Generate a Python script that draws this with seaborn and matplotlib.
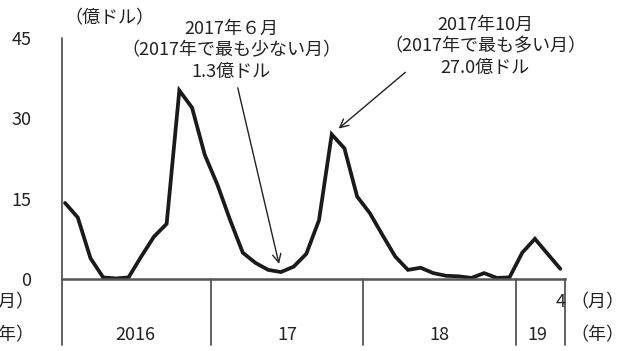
import matplotlib
matplotlib.use("Agg")
import matplotlib.pyplot as plt
import matplotlib.transforms as mtransforms
import numpy as np
import pandas as pd
import seaborn as sns

# Monthly amounts (100 million USD), Jan 2016 - Apr 2019
values_2016 = [14.2, 11.5, 3.9, 0.3, 0.1, 0.3, 4.2, 7.9, 10.3, 35.2, 32.0, 23.2]
values_2017 = [17.6, 11.0, 4.9, 3.0, 1.7, 1.3, 2.3, 4.7, 11.0, 27.0, 24.4, 15.4]
values_2018 = [12.3, 8.2, 4.2, 1.7, 2.1, 1.1, 0.6, 0.5, 0.2, 1.1, 0.2, 0.3]
values_2019 = [4.9, 7.5, 4.7, 1.9]
year_labels = ["2016", "17", "18", "19"]
y_ticks = [0, 15, 30, 45]

values = values_2016 + values_2017 + values_2018 + values_2019
df = pd.DataFrame({"month": np.arange(len(values)), "value": values})

sns.set_style("white")
plt.rcParams["font.family"] = ["Noto Sans CJK JP", "DejaVu Sans"]

W, H = 623, 351
fig = plt.figure(figsize=(W / 100, H / 100), dpi=100)
ax = fig.add_axes([62 / W, 1 - 279 / H, (565 - 62) / W, (279 - 38) / H])

sns.lineplot(data=df, x="month", y="value", ax=ax, color="#1a1a1a",
             linewidth=2.7, solid_joinstyle="miter")

n = len(values)
x_left, x_right = -0.24, n - 1 + 0.37
ax.set_xlim(x_left, x_right)
ax.set_ylim(0, 45)
ax.set_yticks(y_ticks)
ax.set_yticklabels([str(t) for t in y_ticks], fontsize=13, color="#222222")
ax.set_xticks([])
ax.set_xlabel("")
ax.set_ylabel("")
ax.tick_params(axis="y", direction="in", length=5, width=1.2, color="#555555", pad=22)

for s in ["top", "right", "left"]:
    ax.spines[s].set_visible(False)
ax.spines["bottom"].set_color("#555555")
ax.spines["bottom"].set_linewidth(1.8)

# Frame lines below the plot area: axis, year dividers, right end
trans = mtransforms.blended_transform_factory(ax.transData, fig.transFigure)
y_top = 1 - 38 / H
y_axis = 1 - 279 / H
y_bot = 1 - 345 / H
ax.plot([x_left, x_left], [y_top, y_bot], transform=trans, color="#555555",
        lw=1.3, clip_on=False)
starts = np.cumsum([0, len(values_2016), len(values_2017), len(values_2018)])
for b in list(starts[1:] - 0.5) + [x_right]:
    ax.plot([b, b], [y_axis, y_bot], transform=trans, color="#555555",
            lw=1.3, clip_on=False)

# Year labels centred on their month ranges
lengths = [len(values_2016), len(values_2017), len(values_2018), len(values_2019)]
for lab, s0, ln in zip(year_labels, starts, lengths):
    cx = s0 + (ln - 1) / 2
    if lab == "19":
        cx = s0 + (ln - 1) / 2 - 0.3
    ax.text(cx, 1 - 335 / H, lab, transform=trans, ha="center", va="center",
            fontsize=13, color="#222222")

# Last month label
ax.text(n - 1, 1 - 302 / H, "4", transform=trans, ha="center", va="center",
        fontsize=13, color="#222222")
fig.text(570 / W, 1 - 302 / H, "（月）", ha="left", va="center", fontsize=13, color="#222222")
fig.text(570 / W, 1 - 335 / H, "（年）", ha="left", va="center", fontsize=13, color="#222222")
fig.text(34 / W, 1 - 302 / H, "（月）", ha="right", va="center", fontsize=13, color="#222222")
fig.text(34 / W, 1 - 335 / H, "（年）", ha="right", va="center", fontsize=13, color="#222222")

# Unit label
fig.text(64 / W, 1 - 18 / H, "（億ドル）", ha="left", va="center", fontsize=13, color="#222222")

# Annotations for lowest and highest months of 2017
i_min = len(values_2016) + int(np.argmin(values_2017))
i_max = len(values_2016) + int(np.argmax(values_2017))
v_min = values[i_min]
v_max = values[i_max]


def note(cx, y_first, lines, step=21.5):
    for k, line in enumerate(lines):
        fig.text(cx / W, 1 - (y_first + k * step) / H, line, ha="center",
                 va="center", fontsize=13, color="#222222")


note(231, 29, ["2017年６月", "（2017年で最も少ない月）", "%.1f億ドル" % v_min])
note(485, 25, ["2017年10月", "（2017年で最も多い月）", "%.1f億ドル" % v_max])

arrow = dict(arrowstyle="->,head_length=0.6,head_width=0.3", color="#222222",
             lw=1.0, shrinkA=0)
ax.annotate("", xy=(i_min, v_min), xytext=(13.6, 35.7), textcoords="data",
            arrowprops=dict(arrow, shrinkB=6), annotation_clip=False)
ax.annotate("", xy=(i_max, v_max), xytext=(26.8, 38.6), textcoords="data",
            arrowprops=dict(arrow, shrinkB=6.5), annotation_clip=False)

fig.savefig("out.png", dpi=100)
